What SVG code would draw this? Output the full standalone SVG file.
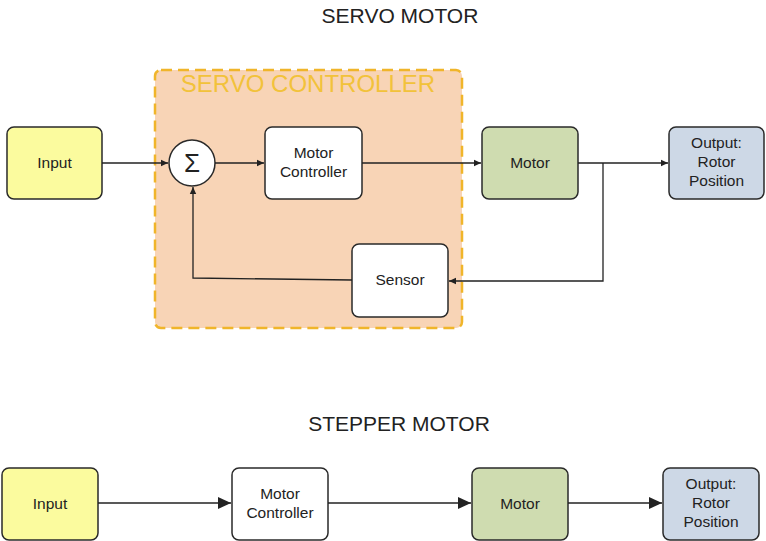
<svg xmlns="http://www.w3.org/2000/svg" width="766" height="541" viewBox="0 0 766 541">
<style>
text{font-family:"Liberation Sans",Arial,sans-serif;fill:#222;text-anchor:middle}
.t{font-size:15.5px}
.h{font-size:21px}
.box{stroke:#2a2a2a;stroke-width:1.5}
.w{fill:#fff}.y{fill:#fbfb9e}.g{fill:#cfdcb0}.b{fill:#cdd8e6}
.c{fill:none;stroke:#222;stroke-width:1.3}
</style>
<defs>
<marker id="a" markerWidth="8" markerHeight="8" refX="7" refY="4" orient="auto" markerUnits="userSpaceOnUse"><path d="M0,0.8 L7,4 L0,7.2 Z" fill="#222"/></marker>
<marker id="A" markerWidth="14" markerHeight="12" refX="13" refY="6" orient="auto" markerUnits="userSpaceOnUse"><path d="M0,0 L13,6 L0,12 Z" fill="#222"/></marker>
</defs>
<text class="h" x="400" y="23">SERVO MOTOR</text>
<g id="servo-controller">
<rect x="155" y="70" width="307" height="258" rx="6" fill="#f8d4b6" stroke="#f0b52a" stroke-width="2.5" stroke-dasharray="11,6"/>
<text x="308" y="92" style="font-size:24px;fill:#f2c23a">SERVO CONTROLLER</text>
</g>
<g id="s-input"><rect class="box y" x="7" y="127" width="95" height="72" rx="7"/><text class="t" x="54.5" y="168">Input</text></g>
<g id="s-sum"><circle class="box w" cx="192" cy="163" r="23"/><text x="192" y="172" style="font-size:26px">Σ</text></g>
<g id="s-mc"><rect class="box w" x="265" y="127" width="97" height="72" rx="7"/><text class="t" x="313.5" y="158">Motor</text><text class="t" x="313.5" y="177">Controller</text></g>
<g id="s-sensor"><rect class="box w" x="352" y="244" width="96" height="73" rx="7"/><text class="t" x="400" y="285">Sensor</text></g>
<g id="s-motor"><rect class="box g" x="482" y="127" width="96" height="72" rx="7"/><text class="t" x="530" y="168">Motor</text></g>
<g id="s-output"><rect class="box b" x="669" y="127" width="95" height="72" rx="7"/><text class="t" x="716.5" y="148">Output:</text><text class="t" x="716.5" y="167">Rotor</text><text class="t" x="716.5" y="186">Position</text></g>
<text class="h" x="399" y="431">STEPPER MOTOR</text>
<g id="p-input"><rect class="box y" x="2" y="468" width="96" height="72" rx="7"/><text class="t" x="50" y="509">Input</text></g>
<g id="p-mc"><rect class="box w" x="232" y="468" width="96" height="72" rx="7"/><text class="t" x="280" y="499">Motor</text><text class="t" x="280" y="518">Controller</text></g>
<g id="p-motor"><rect class="box g" x="472" y="468" width="96" height="72" rx="7"/><text class="t" x="520" y="509">Motor</text></g>
<g id="p-output"><rect class="box b" x="663" y="468" width="96" height="72" rx="7"/><text class="t" x="711" y="489">Output:</text><text class="t" x="711" y="508">Rotor</text><text class="t" x="711" y="527">Position</text></g>
<g id="connectors">
<path class="c" d="M102,163 H168" marker-end="url(#a)"/>
<path class="c" d="M215,163 H264" marker-end="url(#a)"/>
<path class="c" d="M362,163 H481" marker-end="url(#a)"/>
<path class="c" d="M578,163 H668" marker-end="url(#a)"/>
<path class="c" d="M603,163 V281 H449" marker-end="url(#a)"/>
<path class="c" d="M352,280 L193,278 V187" marker-end="url(#a)"/>
<path class="c" d="M98,503 H231" marker-end="url(#A)"/>
<path class="c" d="M328,503 H471" marker-end="url(#A)"/>
<path class="c" d="M568,503 H662" marker-end="url(#A)"/>
</g>
</svg>
